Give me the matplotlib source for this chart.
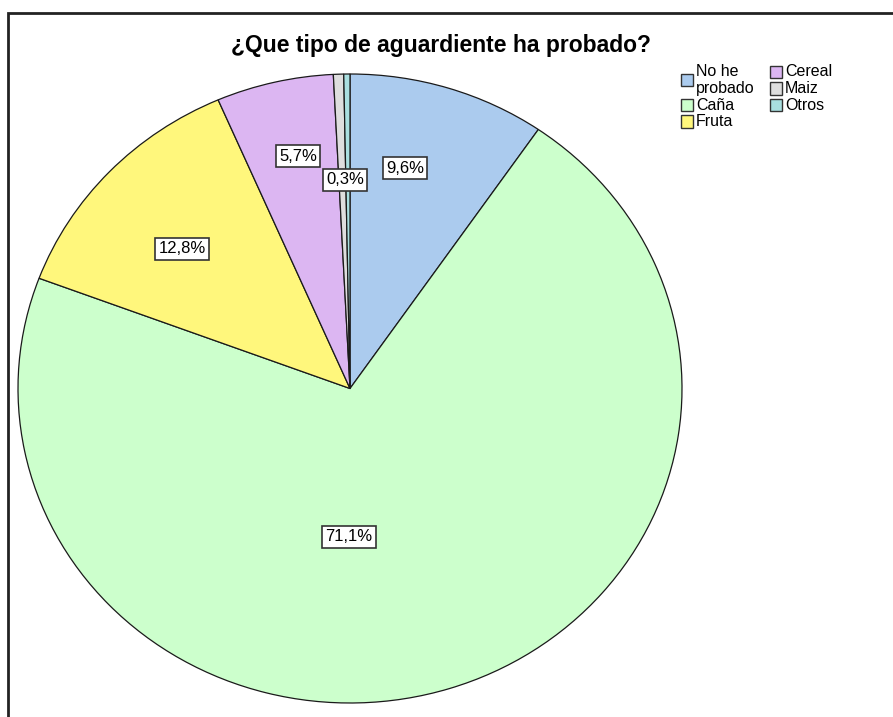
import matplotlib
matplotlib.use("Agg")
import matplotlib.pyplot as plt
from matplotlib.patches import Rectangle

plt.rcParams['font.family'] = ['Liberation Sans', 'DejaVu Sans']

# Survey answers (percent of respondents)
categories = ["No he\nprobado", "Caña", "Fruta", "Cereal", "Maiz", "Otros"]
percentages = [9.6, 71.1, 12.8, 5.7, 0.5, 0.3]
show_label = [True, True, True, True, False, True]
colors = ["#abcbee", "#ccffcc", "#fff77c", "#dcb6f2", "#dedede", "#a9dfe0"]
title = "¿Que tipo de aguardiente ha probado?"

# Label anchor points, in pie units (radius 1)
label_pos = [(0.166, 0.701), (-0.003, -0.472), (-0.506, 0.444),
             (-0.157, 0.739), (0.0, 0.7), (-0.015, 0.663)]

W, H = 893, 717
fig = plt.figure(figsize=(W / 100, H / 100), dpi=100)


def px(x, y):
    """pixel position (from top-left) -> figure fraction"""
    return x / W, 1 - y / H


# outer frame (top-left corner visible)
fig.patches.append(Rectangle((8 / W, -0.05), 1.2, (H - 13) / H + 0.05,
                             transform=fig.transFigure, fill=False,
                             edgecolor="#222222", linewidth=2.0, zorder=0))

ax = fig.add_axes([18 / W, 14 / H, 664 / W, 629 / H])
wedges, _ = ax.pie(percentages, colors=colors, startangle=90, counterclock=False,
                   radius=1, wedgeprops=dict(edgecolor="#1a1a1a", linewidth=0.9))
ax.set_aspect('auto')
ax.set_xlim(-1, 1)
ax.set_ylim(-1, 1)
ax.axis('off')

for val, show, (lx, ly) in zip(percentages, show_label, label_pos):
    if not show:
        continue
    txt = f"{val:.1f}%".replace(".", ",")
    ax.text(lx, ly, txt, ha="center", va="center", fontsize=12,
            bbox=dict(boxstyle="square,pad=0.2", facecolor="white",
                      edgecolor="#333333", linewidth=1.2), zorder=5)

tx, ty = px(441, 52)
fig.text(tx, ty, title, ha="center", va="baseline",
         fontsize=16.5, fontweight="bold")

# Legend: two columns, entries stacked at a fixed line pitch
line_h = 16.5
col_x = [681, 770]
col_rows = [[0, 1, 2], [3, 4, 5]]
sq = 12
for cx, rows in zip(col_x, col_rows):
    y = 72
    for i in rows:
        n_lines = categories[i].count("\n") + 1
        yc = y + (n_lines - 1) * line_h / 2
        x0, y0 = px(cx, yc + sq / 2)
        fig.patches.append(Rectangle((x0, y0), sq / W, sq / H,
                                     transform=fig.transFigure,
                                     facecolor=colors[i], edgecolor="#333333",
                                     linewidth=1.0))
        for k, line in enumerate(categories[i].split("\n")):
            lx, ly = px(cx + sq + 3, y + k * line_h)
            fig.text(lx, ly, line, ha="left", va="center", fontsize=11.5,
                     linespacing=1.0)
        y += n_lines * line_h

fig.savefig("out.png", dpi=100)
